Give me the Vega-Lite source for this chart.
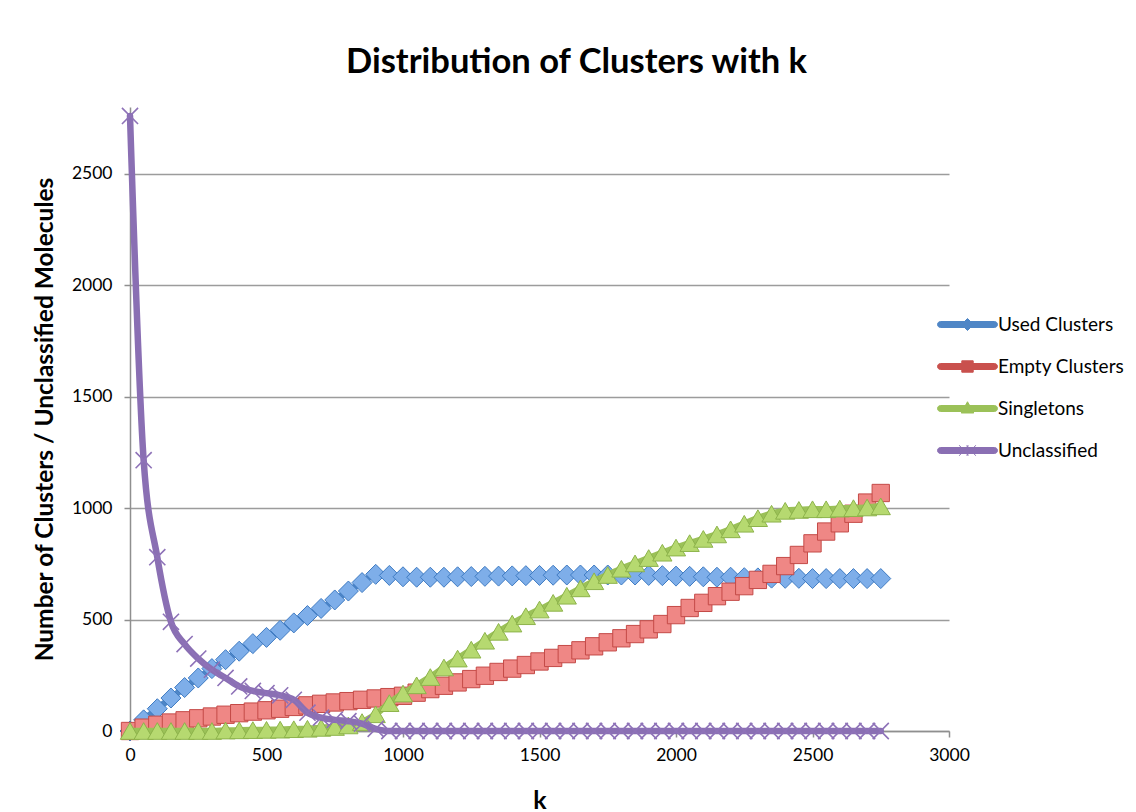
{
  "$schema": "https://vega.github.io/schema/vega-lite/v6.json",
  "autosize": "none",
  "width": 819,
  "height": 624,
  "padding": {"left": 130, "top": 107, "right": 187, "bottom": 81},
  "background": "white",
  "title": {
    "text": "Distribution of Clusters with k",
    "font": "Lato",
    "fontSize": 34.5,
    "fontWeight": "bold",
    "color": "#000000",
    "anchor": "middle",
    "dx": 37,
    "offset": 24
  },
  "data": {
    "values": [
      {"k": 0, "Used Clusters": 0, "Empty Clusters": 0, "Singletons": 0, "Unclassified": 2760},
      {"k": 50, "Used Clusters": 50, "Empty Clusters": 15, "Singletons": 0, "Unclassified": 1215},
      {"k": 100, "Used Clusters": 100, "Empty Clusters": 28, "Singletons": 0, "Unclassified": 780},
      {"k": 150, "Used Clusters": 148, "Empty Clusters": 38, "Singletons": 0, "Unclassified": 490},
      {"k": 200, "Used Clusters": 195, "Empty Clusters": 48, "Singletons": 0, "Unclassified": 390},
      {"k": 250, "Used Clusters": 238, "Empty Clusters": 57, "Singletons": 0, "Unclassified": 325},
      {"k": 300, "Used Clusters": 280, "Empty Clusters": 65, "Singletons": 0, "Unclassified": 275},
      {"k": 350, "Used Clusters": 320, "Empty Clusters": 73, "Singletons": 2, "Unclassified": 238},
      {"k": 400, "Used Clusters": 358, "Empty Clusters": 80, "Singletons": 3, "Unclassified": 200},
      {"k": 450, "Used Clusters": 392, "Empty Clusters": 87, "Singletons": 4, "Unclassified": 180},
      {"k": 500, "Used Clusters": 420, "Empty Clusters": 93, "Singletons": 5, "Unclassified": 170},
      {"k": 550, "Used Clusters": 452, "Empty Clusters": 100, "Singletons": 6, "Unclassified": 160},
      {"k": 600, "Used Clusters": 485, "Empty Clusters": 108, "Singletons": 8, "Unclassified": 140},
      {"k": 650, "Used Clusters": 518, "Empty Clusters": 115, "Singletons": 10, "Unclassified": 82},
      {"k": 700, "Used Clusters": 550, "Empty Clusters": 122, "Singletons": 14, "Unclassified": 60},
      {"k": 750, "Used Clusters": 588, "Empty Clusters": 128, "Singletons": 18, "Unclassified": 50},
      {"k": 800, "Used Clusters": 628, "Empty Clusters": 134, "Singletons": 25, "Unclassified": 44},
      {"k": 850, "Used Clusters": 666, "Empty Clusters": 140, "Singletons": 40, "Unclassified": 33},
      {"k": 900, "Used Clusters": 703, "Empty Clusters": 146, "Singletons": 75, "Unclassified": 10},
      {"k": 950, "Used Clusters": 698, "Empty Clusters": 152, "Singletons": 125, "Unclassified": 0},
      {"k": 1000, "Used Clusters": 692, "Empty Clusters": 158, "Singletons": 168, "Unclassified": 0},
      {"k": 1050, "Used Clusters": 690, "Empty Clusters": 172, "Singletons": 205, "Unclassified": 0},
      {"k": 1100, "Used Clusters": 690, "Empty Clusters": 188, "Singletons": 242, "Unclassified": 0},
      {"k": 1150, "Used Clusters": 690, "Empty Clusters": 203, "Singletons": 285, "Unclassified": 0},
      {"k": 1200, "Used Clusters": 692, "Empty Clusters": 218, "Singletons": 325, "Unclassified": 0},
      {"k": 1250, "Used Clusters": 693, "Empty Clusters": 233, "Singletons": 365, "Unclassified": 0},
      {"k": 1300, "Used Clusters": 694, "Empty Clusters": 248, "Singletons": 405, "Unclassified": 0},
      {"k": 1350, "Used Clusters": 695, "Empty Clusters": 265, "Singletons": 445, "Unclassified": 0},
      {"k": 1400, "Used Clusters": 696, "Empty Clusters": 280, "Singletons": 482, "Unclassified": 0},
      {"k": 1450, "Used Clusters": 697, "Empty Clusters": 296, "Singletons": 515, "Unclassified": 0},
      {"k": 1500, "Used Clusters": 698, "Empty Clusters": 312, "Singletons": 545, "Unclassified": 0},
      {"k": 1550, "Used Clusters": 699, "Empty Clusters": 328, "Singletons": 575, "Unclassified": 0},
      {"k": 1600, "Used Clusters": 700, "Empty Clusters": 345, "Singletons": 607, "Unclassified": 0},
      {"k": 1650, "Used Clusters": 700, "Empty Clusters": 362, "Singletons": 640, "Unclassified": 0},
      {"k": 1700, "Used Clusters": 700, "Empty Clusters": 380, "Singletons": 672, "Unclassified": 0},
      {"k": 1750, "Used Clusters": 700, "Empty Clusters": 398, "Singletons": 700, "Unclassified": 0},
      {"k": 1800, "Used Clusters": 700, "Empty Clusters": 416, "Singletons": 728, "Unclassified": 0},
      {"k": 1850, "Used Clusters": 700, "Empty Clusters": 435, "Singletons": 752, "Unclassified": 0},
      {"k": 1900, "Used Clusters": 698, "Empty Clusters": 456, "Singletons": 776, "Unclassified": 0},
      {"k": 1950, "Used Clusters": 697, "Empty Clusters": 480, "Singletons": 800, "Unclassified": 0},
      {"k": 2000, "Used Clusters": 695, "Empty Clusters": 520, "Singletons": 823, "Unclassified": 0},
      {"k": 2050, "Used Clusters": 694, "Empty Clusters": 552, "Singletons": 843, "Unclassified": 0},
      {"k": 2100, "Used Clusters": 692, "Empty Clusters": 575, "Singletons": 862, "Unclassified": 0},
      {"k": 2150, "Used Clusters": 690, "Empty Clusters": 605, "Singletons": 882, "Unclassified": 0},
      {"k": 2200, "Used Clusters": 690, "Empty Clusters": 625, "Singletons": 905, "Unclassified": 0},
      {"k": 2250, "Used Clusters": 688, "Empty Clusters": 650, "Singletons": 930, "Unclassified": 0},
      {"k": 2300, "Used Clusters": 687, "Empty Clusters": 678, "Singletons": 955, "Unclassified": 0},
      {"k": 2350, "Used Clusters": 686, "Empty Clusters": 705, "Singletons": 975, "Unclassified": 0},
      {"k": 2400, "Used Clusters": 685, "Empty Clusters": 740, "Singletons": 988, "Unclassified": 0},
      {"k": 2450, "Used Clusters": 685, "Empty Clusters": 790, "Singletons": 992, "Unclassified": 0},
      {"k": 2500, "Used Clusters": 684, "Empty Clusters": 842, "Singletons": 995, "Unclassified": 0},
      {"k": 2550, "Used Clusters": 684, "Empty Clusters": 895, "Singletons": 995, "Unclassified": 0},
      {"k": 2600, "Used Clusters": 684, "Empty Clusters": 932, "Singletons": 998, "Unclassified": 0},
      {"k": 2650, "Used Clusters": 684, "Empty Clusters": 975, "Singletons": 1000, "Unclassified": 0},
      {"k": 2700, "Used Clusters": 684, "Empty Clusters": 1025, "Singletons": 1003, "Unclassified": 0},
      {"k": 2750, "Used Clusters": 684, "Empty Clusters": 1068, "Singletons": 1008, "Unclassified": 0}
    ]
  },
  "transform": [
    {"fold": ["Used Clusters", "Empty Clusters", "Singletons", "Unclassified"], "as": ["series", "value"]}
  ],
  "encoding": {
    "x": {
      "field": "k",
      "type": "quantitative",
      "scale": {"domain": [0, 3000], "nice": false, "zero": true},
      "axis": {
        "title": "k",
        "format": "d",
        "values": [0, 500, 1000, 1500, 2000, 2500, 3000],
        "grid": false,
        "labelFlush": false,
        "labelPadding": 9,
        "titleFontSize": 25,
        "titleFontWeight": "bold",
        "titleY": 69,
        "titleBaseline": "middle"
      }
    },
    "y": {
      "field": "value",
      "type": "quantitative",
      "scale": {"domain": [0, 2800], "nice": false, "zero": true},
      "axis": {
        "title": "Number of Clusters / Unclassified Molecules",
        "format": "d",
        "values": [0, 500, 1000, 1500, 2000, 2500],
        "grid": true,
        "labelFlush": false,
        "labelPadding": 12,
        "titleFontSize": 24.5,
        "titleFontWeight": "bold",
        "titleAngle": -90,
        "titleX": -85,
        "titleY": 312,
        "titleAlign": "center",
        "titleBaseline": "middle"
      }
    }
  },
  "layer": [
    {
      "transform": [{"filter": "datum.series === 'Used Clusters'"}],
      "mark": {"type": "line", "strokeWidth": 6.5, "strokeCap": "round", "strokeJoin": "round", "interpolate": "monotone"},
      "encoding": {
        "color": {
          "field": "series",
          "type": "nominal",
          "scale": {
            "domain": ["Used Clusters", "Empty Clusters", "Singletons", "Unclassified"],
            "range": ["#4f86c6", "#c9504d", "#9bc158", "#8a6fb3"]
          },
          "legend": {
            "title": null,
            "orient": "none",
            "direction": "vertical",
            "legendX": 807,
            "legendY": 202,
            "padding": 0,
            "symbolSize": 900,
            "symbolOffset": 15,
            "labelOffset": 15,
            "rowPadding": 16,
            "labelFont": "Lato",
            "labelFontSize": 19,
            "labelColor": "#000000",
            "labelLimit": 300,
            "encode": {
              "symbols": {
                "update": {
                  "shape": {"signal": "datum.value === 'Used Clusters' ? 'M-1.8,-0.2H1.8A0.2,0.2,0,0,1,1.8,0.2H-1.8A0.2,0.2,0,0,1,-1.8,-0.2ZM0,-0.4L0.4,0L0,0.4L-0.4,0Z' : datum.value === 'Empty Clusters' ? 'M-1.8,-0.2H1.8A0.2,0.2,0,0,1,1.8,0.2H-1.8A0.2,0.2,0,0,1,-1.8,-0.2ZM-0.38,-0.38H0.38V0.38H-0.38Z' : datum.value === 'Singletons' ? 'M-1.8,-0.2H1.8A0.2,0.2,0,0,1,1.8,0.2H-1.8A0.2,0.2,0,0,1,-1.8,-0.2ZM0,-0.45L0.42,0.3H-0.42Z' : 'M-1.8,-0.2H1.8A0.2,0.2,0,0,1,1.8,0.2H-1.8A0.2,0.2,0,0,1,-1.8,-0.2ZM-0.55,-0.35L0.05,0.35M-0.55,0.35L0.05,-0.35M-0.05,-0.35L0.55,0.35M-0.05,0.35L0.55,-0.35'"},
                  "fill": {"signal": "scale('color', datum.value)"},
                  "stroke": {"signal": "scale('color', datum.value)"},
                  "strokeWidth": {"value": 1},
                  "opacity": {"value": 1},
                  "fillOpacity": {"value": 1},
                  "strokeOpacity": {"value": 1}
                }
              }
            }
          }
        }
      }
    },
    {
      "transform": [{"filter": "datum.series === 'Used Clusters'"}],
      "mark": {"type": "point", "shape": "diamond", "filled": true, "fill": "#7eaee9", "stroke": "#3f7bc2", "strokeWidth": 1, "size": 400, "opacity": 1}
    },
    {
      "transform": [{"filter": "datum.series === 'Empty Clusters'"}],
      "mark": {"type": "line", "strokeWidth": 6.5, "strokeCap": "round", "strokeJoin": "round", "interpolate": "monotone"},
      "encoding": {"color": {"field": "series", "type": "nominal"}}
    },
    {
      "transform": [{"filter": "datum.series === 'Empty Clusters'"}],
      "mark": {"type": "point", "shape": "square", "filled": true, "fill": "#ef8785", "stroke": "#c44a47", "strokeWidth": 1, "size": 300, "opacity": 1}
    },
    {
      "transform": [{"filter": "datum.series === 'Singletons'"}],
      "mark": {"type": "line", "strokeWidth": 6.5, "strokeCap": "round", "strokeJoin": "round", "interpolate": "monotone"},
      "encoding": {"color": {"field": "series", "type": "nominal"}}
    },
    {
      "transform": [{"filter": "datum.series === 'Singletons'"}],
      "mark": {"type": "point", "shape": "triangle-up", "filled": true, "fill": "#b6d970", "stroke": "#8db34b", "strokeWidth": 1, "size": 370, "opacity": 1}
    },
    {
      "transform": [{"filter": "datum.series === 'Unclassified'"}],
      "mark": {"type": "line", "strokeWidth": 6.5, "strokeCap": "round", "strokeJoin": "round", "interpolate": "monotone"},
      "encoding": {"color": {"field": "series", "type": "nominal"}}
    },
    {
      "transform": [{"filter": "datum.series === 'Unclassified'"}],
      "mark": {"type": "point", "shape": "M-1,-1L1,1M-1,1L1,-1", "filled": false, "stroke": "#8e72b8", "strokeWidth": 1.6, "size": 260, "opacity": 1}
    }
  ],
  "config": {
    "font": "Lato",
    "view": {"stroke": null},
    "axis": {
      "labelFont": "Lato",
      "labelFontSize": 17.5,
      "labelColor": "#000000",
      "titleFont": "Lato",
      "titleColor": "#000000",
      "domainColor": "#8f8f8f",
      "domainWidth": 1.5,
      "tickColor": "#8f8f8f",
      "tickWidth": 1.5,
      "tickSize": 6,
      "gridColor": "#9c9c9c",
      "gridWidth": 1.3
    }
  }
}
